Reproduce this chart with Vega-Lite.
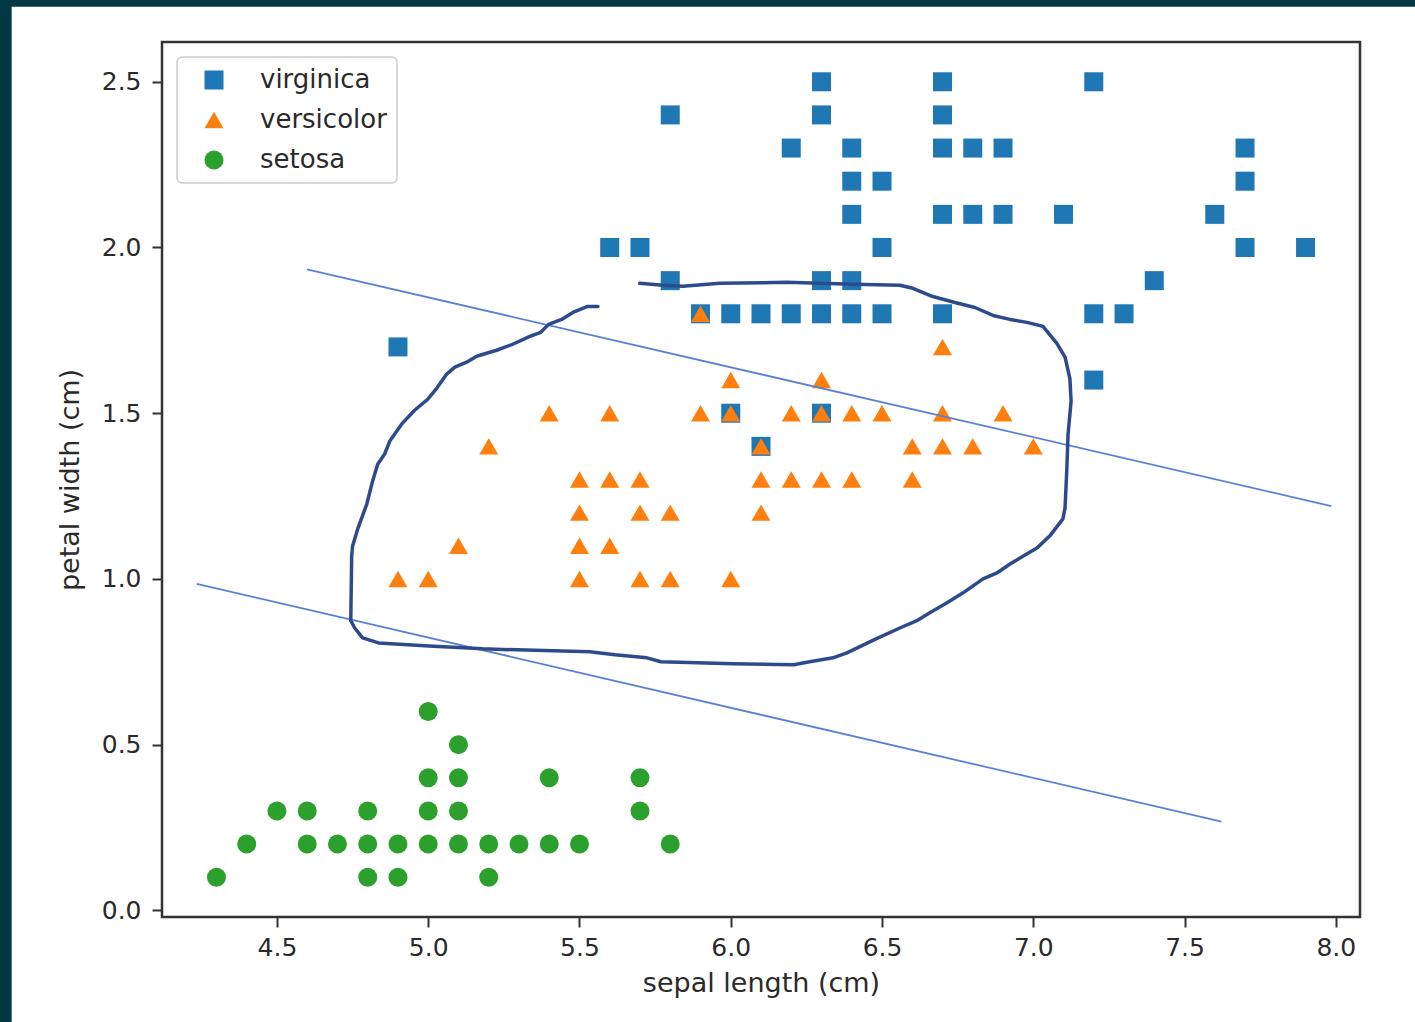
{
  "$schema": "https://vega.github.io/schema/vega-lite/v6.json",
  "width": 1198,
  "height": 875,
  "autosize": {"type": "none"},
  "padding": {"left": 162, "top": 42, "right": 55, "bottom": 105},
  "background": "#003844",
  "config": {
    "font": "DejaVu Sans",
    "view": {"stroke": null},
    "axis": {
      "grid": false,
      "domain": false,
      "tickColor": "#333333",
      "tickWidth": 2,
      "tickSize": 10,
      "labelFont": "DejaVu Sans",
      "labelFontSize": 25,
      "labelColor": "#2a2a2a",
      "titleFont": "DejaVu Sans",
      "titleFontSize": 27,
      "titleColor": "#2a2a2a",
      "titleFontWeight": "normal"
    },
    "axisX": {"labelPadding": 8, "titlePadding": 10},
    "axisY": {"labelPadding": 11, "titlePadding": 17},
    "legend": {
      "padding": 10,
      "fillColor": "white",
      "strokeColor": "#cccccc",
      "strokeWidth": 1.5,
      "cornerRadius": 5,
      "labelFont": "DejaVu Sans",
      "labelFontSize": 26,
      "labelColor": "#2a2a2a",
      "symbolSize": 361,
      "symbolOffset": 14,
      "labelOffset": 33,
      "rowPadding": 14,
      "symbolStrokeWidth": 0,
      "symbolOpacity": 1
    }
  },
  "datasets": {
    "points": [
      {"species": "virginica", "sepal_length": 4.9, "petal_width": 1.7},
      {"species": "virginica", "sepal_length": 5.6, "petal_width": 2.0},
      {"species": "virginica", "sepal_length": 5.7, "petal_width": 2.0},
      {"species": "virginica", "sepal_length": 5.8, "petal_width": 1.9},
      {"species": "virginica", "sepal_length": 5.8, "petal_width": 2.4},
      {"species": "virginica", "sepal_length": 5.9, "petal_width": 1.8},
      {"species": "virginica", "sepal_length": 6.0, "petal_width": 1.5},
      {"species": "virginica", "sepal_length": 6.0, "petal_width": 1.8},
      {"species": "virginica", "sepal_length": 6.1, "petal_width": 1.4},
      {"species": "virginica", "sepal_length": 6.1, "petal_width": 1.8},
      {"species": "virginica", "sepal_length": 6.2, "petal_width": 1.8},
      {"species": "virginica", "sepal_length": 6.2, "petal_width": 2.3},
      {"species": "virginica", "sepal_length": 6.3, "petal_width": 1.5},
      {"species": "virginica", "sepal_length": 6.3, "petal_width": 1.8},
      {"species": "virginica", "sepal_length": 6.3, "petal_width": 1.9},
      {"species": "virginica", "sepal_length": 6.3, "petal_width": 2.4},
      {"species": "virginica", "sepal_length": 6.3, "petal_width": 2.5},
      {"species": "virginica", "sepal_length": 6.4, "petal_width": 1.8},
      {"species": "virginica", "sepal_length": 6.4, "petal_width": 1.9},
      {"species": "virginica", "sepal_length": 6.4, "petal_width": 2.1},
      {"species": "virginica", "sepal_length": 6.4, "petal_width": 2.2},
      {"species": "virginica", "sepal_length": 6.4, "petal_width": 2.3},
      {"species": "virginica", "sepal_length": 6.5, "petal_width": 1.8},
      {"species": "virginica", "sepal_length": 6.5, "petal_width": 2.0},
      {"species": "virginica", "sepal_length": 6.5, "petal_width": 2.2},
      {"species": "virginica", "sepal_length": 6.7, "petal_width": 1.8},
      {"species": "virginica", "sepal_length": 6.7, "petal_width": 2.1},
      {"species": "virginica", "sepal_length": 6.7, "petal_width": 2.3},
      {"species": "virginica", "sepal_length": 6.7, "petal_width": 2.4},
      {"species": "virginica", "sepal_length": 6.7, "petal_width": 2.5},
      {"species": "virginica", "sepal_length": 6.8, "petal_width": 2.1},
      {"species": "virginica", "sepal_length": 6.8, "petal_width": 2.3},
      {"species": "virginica", "sepal_length": 6.9, "petal_width": 2.1},
      {"species": "virginica", "sepal_length": 6.9, "petal_width": 2.3},
      {"species": "virginica", "sepal_length": 7.1, "petal_width": 2.1},
      {"species": "virginica", "sepal_length": 7.2, "petal_width": 1.6},
      {"species": "virginica", "sepal_length": 7.2, "petal_width": 1.8},
      {"species": "virginica", "sepal_length": 7.2, "petal_width": 2.5},
      {"species": "virginica", "sepal_length": 7.3, "petal_width": 1.8},
      {"species": "virginica", "sepal_length": 7.4, "petal_width": 1.9},
      {"species": "virginica", "sepal_length": 7.6, "petal_width": 2.1},
      {"species": "virginica", "sepal_length": 7.7, "petal_width": 2.0},
      {"species": "virginica", "sepal_length": 7.7, "petal_width": 2.2},
      {"species": "virginica", "sepal_length": 7.7, "petal_width": 2.3},
      {"species": "virginica", "sepal_length": 7.9, "petal_width": 2.0},
      {"species": "versicolor", "sepal_length": 5.9, "petal_width": 1.8},
      {"species": "versicolor", "sepal_length": 6.7, "petal_width": 1.7},
      {"species": "versicolor", "sepal_length": 6.0, "petal_width": 1.6},
      {"species": "versicolor", "sepal_length": 6.3, "petal_width": 1.6},
      {"species": "versicolor", "sepal_length": 5.4, "petal_width": 1.5},
      {"species": "versicolor", "sepal_length": 5.6, "petal_width": 1.5},
      {"species": "versicolor", "sepal_length": 5.9, "petal_width": 1.5},
      {"species": "versicolor", "sepal_length": 6.0, "petal_width": 1.5},
      {"species": "versicolor", "sepal_length": 6.2, "petal_width": 1.5},
      {"species": "versicolor", "sepal_length": 6.3, "petal_width": 1.5},
      {"species": "versicolor", "sepal_length": 6.4, "petal_width": 1.5},
      {"species": "versicolor", "sepal_length": 6.5, "petal_width": 1.5},
      {"species": "versicolor", "sepal_length": 6.7, "petal_width": 1.5},
      {"species": "versicolor", "sepal_length": 6.9, "petal_width": 1.5},
      {"species": "versicolor", "sepal_length": 5.2, "petal_width": 1.4},
      {"species": "versicolor", "sepal_length": 6.1, "petal_width": 1.4},
      {"species": "versicolor", "sepal_length": 6.6, "petal_width": 1.4},
      {"species": "versicolor", "sepal_length": 6.7, "petal_width": 1.4},
      {"species": "versicolor", "sepal_length": 6.8, "petal_width": 1.4},
      {"species": "versicolor", "sepal_length": 7.0, "petal_width": 1.4},
      {"species": "versicolor", "sepal_length": 5.5, "petal_width": 1.3},
      {"species": "versicolor", "sepal_length": 5.6, "petal_width": 1.3},
      {"species": "versicolor", "sepal_length": 5.7, "petal_width": 1.3},
      {"species": "versicolor", "sepal_length": 6.1, "petal_width": 1.3},
      {"species": "versicolor", "sepal_length": 6.2, "petal_width": 1.3},
      {"species": "versicolor", "sepal_length": 6.3, "petal_width": 1.3},
      {"species": "versicolor", "sepal_length": 6.4, "petal_width": 1.3},
      {"species": "versicolor", "sepal_length": 6.6, "petal_width": 1.3},
      {"species": "versicolor", "sepal_length": 5.5, "petal_width": 1.2},
      {"species": "versicolor", "sepal_length": 5.7, "petal_width": 1.2},
      {"species": "versicolor", "sepal_length": 5.8, "petal_width": 1.2},
      {"species": "versicolor", "sepal_length": 6.1, "petal_width": 1.2},
      {"species": "versicolor", "sepal_length": 5.1, "petal_width": 1.1},
      {"species": "versicolor", "sepal_length": 5.5, "petal_width": 1.1},
      {"species": "versicolor", "sepal_length": 5.6, "petal_width": 1.1},
      {"species": "versicolor", "sepal_length": 4.9, "petal_width": 1.0},
      {"species": "versicolor", "sepal_length": 5.0, "petal_width": 1.0},
      {"species": "versicolor", "sepal_length": 5.5, "petal_width": 1.0},
      {"species": "versicolor", "sepal_length": 5.7, "petal_width": 1.0},
      {"species": "versicolor", "sepal_length": 5.8, "petal_width": 1.0},
      {"species": "versicolor", "sepal_length": 6.0, "petal_width": 1.0},
      {"species": "setosa", "sepal_length": 4.3, "petal_width": 0.1},
      {"species": "setosa", "sepal_length": 4.8, "petal_width": 0.1},
      {"species": "setosa", "sepal_length": 4.9, "petal_width": 0.1},
      {"species": "setosa", "sepal_length": 5.2, "petal_width": 0.1},
      {"species": "setosa", "sepal_length": 4.4, "petal_width": 0.2},
      {"species": "setosa", "sepal_length": 4.6, "petal_width": 0.2},
      {"species": "setosa", "sepal_length": 4.7, "petal_width": 0.2},
      {"species": "setosa", "sepal_length": 4.8, "petal_width": 0.2},
      {"species": "setosa", "sepal_length": 4.9, "petal_width": 0.2},
      {"species": "setosa", "sepal_length": 5.0, "petal_width": 0.2},
      {"species": "setosa", "sepal_length": 5.1, "petal_width": 0.2},
      {"species": "setosa", "sepal_length": 5.2, "petal_width": 0.2},
      {"species": "setosa", "sepal_length": 5.3, "petal_width": 0.2},
      {"species": "setosa", "sepal_length": 5.4, "petal_width": 0.2},
      {"species": "setosa", "sepal_length": 5.5, "petal_width": 0.2},
      {"species": "setosa", "sepal_length": 5.8, "petal_width": 0.2},
      {"species": "setosa", "sepal_length": 4.5, "petal_width": 0.3},
      {"species": "setosa", "sepal_length": 4.6, "petal_width": 0.3},
      {"species": "setosa", "sepal_length": 4.8, "petal_width": 0.3},
      {"species": "setosa", "sepal_length": 5.0, "petal_width": 0.3},
      {"species": "setosa", "sepal_length": 5.1, "petal_width": 0.3},
      {"species": "setosa", "sepal_length": 5.7, "petal_width": 0.3},
      {"species": "setosa", "sepal_length": 5.0, "petal_width": 0.4},
      {"species": "setosa", "sepal_length": 5.1, "petal_width": 0.4},
      {"species": "setosa", "sepal_length": 5.4, "petal_width": 0.4},
      {"species": "setosa", "sepal_length": 5.7, "petal_width": 0.4},
      {"species": "setosa", "sepal_length": 5.1, "petal_width": 0.5},
      {"species": "setosa", "sepal_length": 5.0, "petal_width": 0.6}
    ],
    "boundaries": [
      {"line": "upper", "sepal_length": 4.599, "petal_width": 1.934},
      {"line": "upper", "sepal_length": 7.985, "petal_width": 1.22},
      {"line": "lower", "sepal_length": 4.235, "petal_width": 0.985},
      {"line": "lower", "sepal_length": 7.622, "petal_width": 0.268}
    ],
    "contour": [
      {"i": 1, "sepal_length": 5.561, "petal_width": 1.822},
      {"i": 2, "sepal_length": 5.527, "petal_width": 1.822},
      {"i": 3, "sepal_length": 5.478, "petal_width": 1.804},
      {"i": 4, "sepal_length": 5.441, "petal_width": 1.783},
      {"i": 5, "sepal_length": 5.398, "petal_width": 1.768},
      {"i": 6, "sepal_length": 5.372, "petal_width": 1.744},
      {"i": 7, "sepal_length": 5.336, "petal_width": 1.732},
      {"i": 8, "sepal_length": 5.279, "petal_width": 1.708},
      {"i": 9, "sepal_length": 5.226, "petal_width": 1.69},
      {"i": 10, "sepal_length": 5.16, "petal_width": 1.672},
      {"i": 11, "sepal_length": 5.127, "petal_width": 1.654},
      {"i": 12, "sepal_length": 5.088, "petal_width": 1.639},
      {"i": 13, "sepal_length": 5.061, "petal_width": 1.618},
      {"i": 14, "sepal_length": 5.028, "petal_width": 1.575},
      {"i": 15, "sepal_length": 4.998, "petal_width": 1.542},
      {"i": 16, "sepal_length": 4.955, "petal_width": 1.509},
      {"i": 17, "sepal_length": 4.912, "petal_width": 1.467},
      {"i": 18, "sepal_length": 4.873, "petal_width": 1.416},
      {"i": 19, "sepal_length": 4.856, "petal_width": 1.377},
      {"i": 20, "sepal_length": 4.833, "petal_width": 1.346},
      {"i": 21, "sepal_length": 4.816, "petal_width": 1.295},
      {"i": 22, "sepal_length": 4.797, "petal_width": 1.226},
      {"i": 23, "sepal_length": 4.767, "petal_width": 1.151},
      {"i": 24, "sepal_length": 4.75, "petal_width": 1.099},
      {"i": 25, "sepal_length": 4.747, "petal_width": 1.069},
      {"i": 26, "sepal_length": 4.744, "petal_width": 0.874},
      {"i": 27, "sepal_length": 4.757, "petal_width": 0.852},
      {"i": 28, "sepal_length": 4.783, "petal_width": 0.822},
      {"i": 29, "sepal_length": 4.836, "petal_width": 0.807},
      {"i": 30, "sepal_length": 5.002, "petal_width": 0.798},
      {"i": 31, "sepal_length": 5.18, "petal_width": 0.789},
      {"i": 32, "sepal_length": 5.534, "petal_width": 0.78},
      {"i": 33, "sepal_length": 5.617, "petal_width": 0.771},
      {"i": 34, "sepal_length": 5.723, "petal_width": 0.762},
      {"i": 35, "sepal_length": 5.769, "petal_width": 0.75},
      {"i": 36, "sepal_length": 6.007, "petal_width": 0.744},
      {"i": 37, "sepal_length": 6.209, "petal_width": 0.741},
      {"i": 38, "sepal_length": 6.242, "petal_width": 0.747},
      {"i": 39, "sepal_length": 6.338, "petal_width": 0.762},
      {"i": 40, "sepal_length": 6.384, "petal_width": 0.777},
      {"i": 41, "sepal_length": 6.48, "petal_width": 0.819},
      {"i": 42, "sepal_length": 6.559, "petal_width": 0.852},
      {"i": 43, "sepal_length": 6.615, "petal_width": 0.874},
      {"i": 44, "sepal_length": 6.658, "petal_width": 0.898},
      {"i": 45, "sepal_length": 6.715, "petal_width": 0.928},
      {"i": 46, "sepal_length": 6.768, "petal_width": 0.958},
      {"i": 47, "sepal_length": 6.834, "petal_width": 1.0},
      {"i": 48, "sepal_length": 6.88, "petal_width": 1.018},
      {"i": 49, "sepal_length": 6.923, "petal_width": 1.045},
      {"i": 50, "sepal_length": 6.956, "petal_width": 1.063},
      {"i": 51, "sepal_length": 7.012, "petal_width": 1.093},
      {"i": 52, "sepal_length": 7.055, "petal_width": 1.13},
      {"i": 53, "sepal_length": 7.098, "petal_width": 1.181},
      {"i": 54, "sepal_length": 7.105, "petal_width": 1.214},
      {"i": 55, "sepal_length": 7.111, "petal_width": 1.334},
      {"i": 56, "sepal_length": 7.115, "petal_width": 1.437},
      {"i": 57, "sepal_length": 7.125, "petal_width": 1.536},
      {"i": 58, "sepal_length": 7.121, "petal_width": 1.605},
      {"i": 59, "sepal_length": 7.105, "petal_width": 1.669},
      {"i": 60, "sepal_length": 7.078, "petal_width": 1.711},
      {"i": 61, "sepal_length": 7.032, "petal_width": 1.762},
      {"i": 62, "sepal_length": 6.979, "petal_width": 1.774},
      {"i": 63, "sepal_length": 6.923, "petal_width": 1.783},
      {"i": 64, "sepal_length": 6.867, "petal_width": 1.795},
      {"i": 65, "sepal_length": 6.807, "petal_width": 1.819},
      {"i": 66, "sepal_length": 6.741, "petal_width": 1.834},
      {"i": 67, "sepal_length": 6.668, "petal_width": 1.852},
      {"i": 68, "sepal_length": 6.602, "petal_width": 1.877},
      {"i": 69, "sepal_length": 6.559, "petal_width": 1.886},
      {"i": 70, "sepal_length": 6.404, "petal_width": 1.889},
      {"i": 71, "sepal_length": 6.186, "petal_width": 1.895},
      {"i": 72, "sepal_length": 5.964, "petal_width": 1.892},
      {"i": 73, "sepal_length": 5.842, "petal_width": 1.883},
      {"i": 74, "sepal_length": 5.776, "petal_width": 1.886},
      {"i": 75, "sepal_length": 5.699, "petal_width": 1.892}
    ]
  },
  "layer": [
    {
      "data": {"values": [{}]},
      "mark": {"type": "rect", "fill": "white", "clip": false},
      "encoding": {
        "x": {"datum": 3.623, "type": "quantitative", "scale": {"domain": [4.12, 8.08], "nice": false, "zero": false}, "title": "sepal length (cm)",
          "axis": {"zindex": 1, "values": [4.5, 5.0, 5.5, 6.0, 6.5, 7.0, 7.5, 8.0], "format": ".1f"}},
        "x2": {"datum": 8.6},
        "y": {"datum": 2.726, "type": "quantitative", "scale": {"domain": [-0.02, 2.62], "nice": false, "zero": false}, "title": "petal width (cm)",
          "axis": {"zindex": 1, "values": [0.0, 0.5, 1.0, 1.5, 2.0, 2.5], "format": ".1f"}},
        "y2": {"datum": -0.6}
      }
    },
    {
      "data": {"values": [{}]},
      "mark": {"type": "rect", "fill": null, "stroke": "#333333", "strokeWidth": 2.5, "clip": false},
      "encoding": {
        "x": {"datum": 4.12, "type": "quantitative", "scale": {"domain": [4.12, 8.08], "nice": false, "zero": false}, "title": "sepal length (cm)"},
        "x2": {"datum": 8.08},
        "y": {"datum": 2.62, "type": "quantitative", "scale": {"domain": [-0.02, 2.62], "nice": false, "zero": false}, "title": "petal width (cm)"},
        "y2": {"datum": -0.02}
      }
    },
    {
      "data": {"name": "points"},
      "mark": {"type": "point", "filled": true, "opacity": 1, "size": 361, "strokeWidth": 0},
      "encoding": {
        "x": {
          "field": "sepal_length", "type": "quantitative",
          "scale": {"domain": [4.12, 8.08], "nice": false, "zero": false},
          "title": "sepal length (cm)",
          "axis": {"zindex": 1, "values": [4.5, 5.0, 5.5, 6.0, 6.5, 7.0, 7.5, 8.0], "format": ".1f"}
        },
        "y": {
          "field": "petal_width", "type": "quantitative",
          "scale": {"domain": [-0.02, 2.62], "nice": false, "zero": false},
          "title": "petal width (cm)",
          "axis": {"zindex": 1, "values": [0.0, 0.5, 1.0, 1.5, 2.0, 2.5], "format": ".1f"}
        },
        "color": {
          "field": "species", "type": "nominal",
          "scale": {"domain": ["virginica", "versicolor", "setosa"], "range": ["#1f77b4", "#ff7f0e", "#2ca02c"]},
          "legend": {"title": null, "orient": "none", "legendX": 15, "legendY": 15}
        },
        "shape": {
          "field": "species", "type": "nominal",
          "scale": {"domain": ["virginica", "versicolor", "setosa"], "range": ["square", "triangle-up", "circle"]},
          "legend": {"title": null, "orient": "none", "legendX": 15, "legendY": 15}
        }
      }
    },
    {
      "data": {"name": "boundaries"},
      "mark": {"type": "line", "color": "#5a80d6", "strokeWidth": 1.8},
      "encoding": {
        "x": {"field": "sepal_length", "type": "quantitative", "scale": {"domain": [4.12, 8.08], "nice": false, "zero": false}, "title": "sepal length (cm)"},
        "y": {"field": "petal_width", "type": "quantitative", "scale": {"domain": [-0.02, 2.62], "nice": false, "zero": false}, "title": "petal width (cm)"},
        "detail": {"field": "line", "type": "nominal"}
      }
    },
    {
      "data": {"name": "contour"},
      "mark": {"type": "line", "color": "#2d4b8c", "strokeWidth": 3.5, "strokeJoin": "round", "strokeCap": "round"},
      "encoding": {
        "x": {"field": "sepal_length", "type": "quantitative", "scale": {"domain": [4.12, 8.08], "nice": false, "zero": false}, "title": "sepal length (cm)"},
        "y": {"field": "petal_width", "type": "quantitative", "scale": {"domain": [-0.02, 2.62], "nice": false, "zero": false}, "title": "petal width (cm)"},
        "order": {"field": "i", "type": "quantitative"}
      }
    }
  ]
}
